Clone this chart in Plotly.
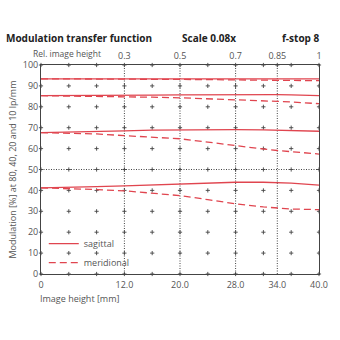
import plotly.graph_objects as go

# Image height positions (mm) where the MTF curves are sampled
image_height = [0, 4, 8, 12, 16, 20, 24, 28, 32, 34, 36, 40]

# MTF values (%) per spatial frequency: sagittal (solid) / meridional (dashed)
sag_10 = [93.4, 93.4, 93.4, 93.4, 93.4, 93.5, 93.5, 93.5, 93.5, 93.5, 93.5, 93.4]
mer_10 = [93.4, 93.4, 93.4, 93.3, 93.2, 93.1, 93.0, 92.9, 92.8, 92.7, 92.6, 92.5]
sag_20 = [85.3, 85.3, 85.4, 85.5, 85.6, 85.7, 85.8, 85.8, 85.8, 85.8, 85.7, 85.3]
mer_20 = [85.3, 85.2, 85.0, 84.8, 84.6, 84.3, 83.9, 83.4, 82.9, 82.6, 82.3, 81.5]
sag_40 = [67.6, 67.8, 68.1, 68.5, 68.8, 69.0, 69.1, 69.1, 69.0, 68.9, 68.8, 68.3]
mer_40 = [67.6, 67.4, 67.0, 66.2, 65.5, 64.7, 63.1, 61.3, 59.8, 59.1, 58.6, 57.4]
sag_80 = [41.2, 41.4, 41.8, 42.2, 42.7, 43.1, 43.5, 43.9, 43.9, 43.8, 43.5, 42.5]
mer_80 = [41.2, 40.9, 40.4, 39.8, 38.7, 37.5, 35.6, 33.6, 32.1, 31.5, 31.1, 30.8]

# Axis ticks
x_ticks = [0, 12, 20, 28, 34, 40]
x_ticktext = ["0", "12.0", "20.0", "28.0", "34.0", "40.0"]
rel_ticks = [12, 20, 28, 34, 40]
rel_ticktext = ["0.3", "0.5", "0.7", "0.85", "1"]
y_ticks = [0, 10, 20, 30, 40, 50, 60, 70, 80, 90, 100]
cross_x = [4, 8, 12, 16, 20, 24, 28, 32, 36, 40]
cross_y = [10, 20, 30, 40, 50, 60, 70, 80, 90]

RED = "#e0454f"
GRID = "#444444"
TXT = "#555555"
FONT = "Open Sans"
CROSS = dict(symbol="cross-thin", size=3, line=dict(width=0.9, color=GRID))

fig = go.Figure()

# grid crosses
gx, gy = [], []
for xv in cross_x:
    for yv in cross_y:
        gx.append(xv)
        gy.append(yv)
fig.add_trace(go.Scatter(x=gx, y=gy, mode="markers", showlegend=False, hoverinfo="skip", marker=CROSS))
# crosses along the frame
fx = cross_x + cross_x + [0] * len(y_ticks) + [34]
fy = [0] * len(cross_x) + [100] * len(cross_x) + y_ticks + [100]
fig.add_trace(go.Scatter(x=fx, y=fy, mode="markers", showlegend=False, hoverinfo="skip",
                         cliponaxis=False, marker=CROSS))

for i, (s, m) in enumerate([(sag_10, mer_10), (sag_20, mer_20), (sag_40, mer_40), (sag_80, mer_80)]):
    fig.add_trace(go.Scatter(x=image_height, y=m, mode="lines", name="meridional", showlegend=(i == 0),
                             line=dict(color=RED, width=1.3, dash="7px,4px"), legendrank=2))
    fig.add_trace(go.Scatter(x=image_height, y=s, mode="lines", name="sagittal", showlegend=(i == 0),
                             line=dict(color=RED, width=1.3), legendrank=1))

# dotted reference lines
for xv in [12, 20, 28, 34]:
    fig.add_shape(type="line", x0=xv, x1=xv, y0=0, y1=100, xref="x", yref="y",
                  line=dict(color=GRID, width=1, dash="1px,1.5px"), layer="below")
fig.add_shape(type="line", x0=0, x1=40, y0=50, y1=50, xref="x", yref="y",
              line=dict(color=GRID, width=1, dash="1px,1.5px"), layer="below")

fig.update_layout(
    width=340, height=340,
    margin=dict(l=39, r=13, t=65, b=66),
    paper_bgcolor="white", plot_bgcolor="white",
    font=dict(family=FONT, size=9, color=TXT),
    showlegend=True,
    legend=dict(x=0.01, y=0.215, xanchor="left", yanchor="top", bgcolor="rgba(0,0,0,0)",
                font=dict(size=9, color=TXT), itemwidth=30),
    xaxis=dict(range=[0, 40], tickvals=x_ticks, ticktext=x_ticktext, showgrid=False, zeroline=False,
               showline=True, linecolor=GRID, linewidth=1, mirror=True, ticks="", ticklabelstandoff=2,
               tickfont=dict(size=9, color=TXT)),
    xaxis2=dict(range=[0, 40], overlaying="x", side="top", tickvals=rel_ticks, ticktext=rel_ticktext,
                showgrid=False, zeroline=False, showline=False, ticks="", ticklabelstandoff=3,
                tickfont=dict(size=9, color=TXT)),
    yaxis=dict(range=[0, 100], tickvals=y_ticks, showgrid=False, zeroline=False, showline=True,
               linecolor=GRID, linewidth=1, mirror=True, ticks="", tickfont=dict(size=9, color=TXT),
               title=dict(text="Modulation [%] at 80, 40, 20 and 10 lp/mm", font=dict(size=9, color=TXT),
                          standoff=4)),
)
# invisible trace that activates the top axis
fig.add_trace(go.Scatter(x=[0], y=[0], xaxis="x2", mode="markers", marker=dict(opacity=0),
                         showlegend=False, hoverinfo="skip"))

TITLE_FONT = dict(size=10, color="#222222", family=FONT, weight="bold")
fig.add_annotation(text="Modulation transfer function", xref="paper", yref="paper", x=-0.132, y=1.129,
                   xanchor="left", yanchor="middle", showarrow=False, font=TITLE_FONT)
fig.add_annotation(text="Scale 0.08x", xref="paper", yref="paper", x=0.604, y=1.129,
                   xanchor="center", yanchor="middle", showarrow=False, font=TITLE_FONT)
fig.add_annotation(text="f-stop 8", xref="paper", yref="paper", x=1.01, y=1.129,
                   xanchor="right", yanchor="middle", showarrow=False, font=TITLE_FONT)
fig.add_annotation(text="Rel. image height", xref="paper", yref="paper", x=-0.035, y=1.053,
                   xanchor="left", yanchor="middle", showarrow=False, font=dict(size=8.5, color=TXT))
fig.add_annotation(text="Image height [mm]", xref="paper", yref="paper", x=-0.012, y=-0.115,
                   xanchor="left", yanchor="middle", showarrow=False, font=dict(size=9, color=TXT))

fig.write_html("out.html")
